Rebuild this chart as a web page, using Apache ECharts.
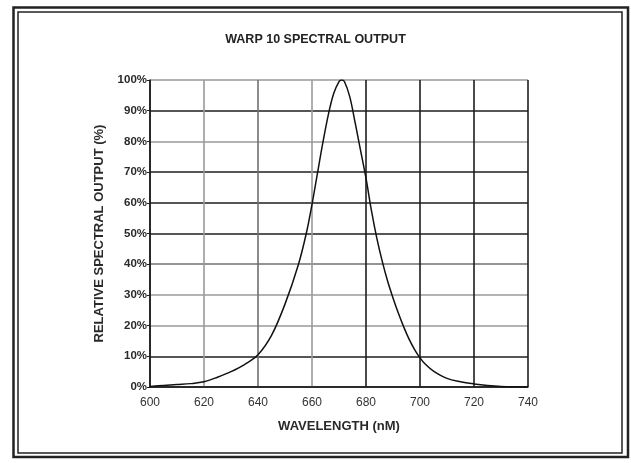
<!DOCTYPE html>
<html>
<head>
<meta charset="utf-8">
<script src="https://cdn.jsdelivr.net/npm/echarts@6/dist/echarts.min.js"></script>
<style>html,body{margin:0;padding:0;background:#fff;}#c{width:631px;height:463px;}</style>
</head>
<body>
<div id="c"></div>
<script>
const titleText = 'WARP 10 SPECTRAL OUTPUT';
const xName = 'WAVELENGTH (nM)';
const yName = 'RELATIVE SPECTRAL OUTPUT (%)';
const wavelength = [600, 605, 610, 615, 620, 625, 630, 635, 640, 645, 650, 655, 658, 660, 662, 664, 666, 668, 670, 671, 672, 674, 676, 678, 680, 682, 684, 686, 688, 690, 692, 694, 696, 698, 700, 702, 705, 710, 715, 720, 725, 730, 740];
const output = [0.2, 0.5, 0.8, 1.1, 1.7, 3.2, 5.0, 7.3, 10.5, 16.8, 27, 40, 50.5, 59.5, 69.5, 79.5, 88.5, 95.5, 99.5, 100, 99.5, 94.5, 86, 77, 68, 57.5, 48.5, 41, 34.5, 29, 24, 19.5, 15.5, 12.2, 9.5, 7.4, 5.2, 2.8, 1.7, 1.0, 0.5, 0.2, 0];
const xMin = 600, xMax = 740, xStep = 20;
const yMin = 0, yMax = 100, yStep = 10;

const FONT = 'Liberation Sans, Arial, sans-serif';
const DARK = '#1e1e1e', GRAY = '#9a9a9a', MID = '#707070';
const chart = echarts.init(document.getElementById('c'));
chart.setOption({
  backgroundColor: '#fff',
  animation: false,
  title: {
    text: titleText, left: 'center', top: 28,
    textStyle: { fontFamily: FONT, fontSize: 12.5, fontWeight: 'bold', color: '#222' }
  },
  grid: { left: 150, right: 103, top: 80, bottom: 76 },
  xAxis: {
    type: 'value', min: xMin, max: xMax, interval: xStep,
    name: xName, nameLocation: 'middle', nameGap: 33,
    nameTextStyle: { fontFamily: FONT, fontSize: 13, fontWeight: 'bold', color: '#2a2a2a' },
    axisLine: { show: true, lineStyle: { color: DARK, width: 1.5 } },
    axisTick: { show: false },
    axisLabel: { margin: 10, fontFamily: FONT, fontSize: 12, color: '#333' },
    splitLine: { show: true, lineStyle: { width: 1.6, color: [DARK, GRAY, MID, GRAY, DARK, DARK, DARK, DARK] } }
  },
  yAxis: {
    type: 'value', min: yMin, max: yMax, interval: yStep,
    name: yName, nameLocation: 'middle', nameGap: 44, nameRotate: 90,
    nameTextStyle: { fontFamily: FONT, fontSize: 13, fontWeight: 'bold', color: '#2a2a2a' },
    axisLine: { show: true, lineStyle: { color: DARK, width: 1.5 } },
    axisTick: { show: true, length: 3, lineStyle: { color: DARK } },
    axisLabel: { margin: 3, formatter: '{value}%', fontFamily: FONT, fontSize: 11.5, fontWeight: 'bold', color: '#2a2a2a' },
    splitLine: { show: true, lineStyle: { width: 1.6, color: [DARK, DARK, GRAY, GRAY, MID, DARK, DARK, DARK, GRAY, DARK, GRAY] } }
  },
  series: [{
    type: 'line',
    data: wavelength.map((w, i) => [w, output[i]]),
    smooth: 0.35,
    showSymbol: false,
    lineStyle: { color: '#111', width: 1.5 }
  }],
  graphic: [
    { type: 'rect', shape: { x: 13.5, y: 7.5, width: 614.5, height: 449.5 }, style: { fill: 'none', stroke: '#222', lineWidth: 2.5 } },
    { type: 'rect', shape: { x: 18, y: 12, width: 604, height: 441 }, style: { fill: 'none', stroke: '#222', lineWidth: 1.5 } }
  ]
});
</script>
</body>
</html>
